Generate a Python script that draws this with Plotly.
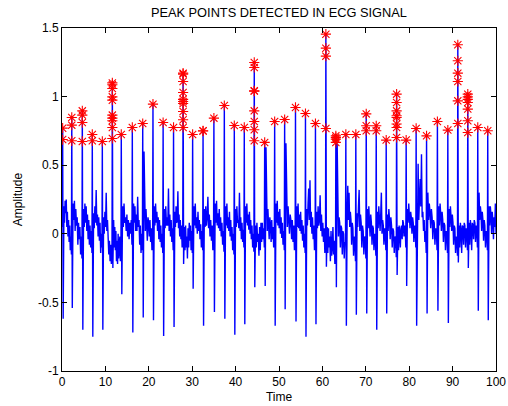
import numpy as np
import plotly.graph_objects as go

# ---- data ----
beat_time = [0.15, 2.25, 4.68, 6.98, 9.29, 11.6, 13.66, 16.2, 18.6, 20.96, 23.3, 25.7,
             27.9, 30.1, 32.5, 35.0, 37.4, 39.7, 42.0, 44.3, 46.7, 49.0, 51.3, 53.8,
             56.1, 58.4, 60.8, 63.1, 65.4, 67.7, 70.1, 72.4, 74.7, 77.1, 79.3, 81.6,
             84.0, 86.5, 88.9, 91.2, 93.5, 95.8, 98.1]

r_peak = [0.77, 0.848, 0.896, 0.724, 0.673, 1.10, 0.724, 0.775, 0.804, 0.945, 0.811, 0.775,
          1.171, 0.724, 0.751, 0.843, 0.935, 0.789, 0.775, 1.249, 0.666, 0.818, 0.833, 0.921,
          0.877, 0.804, 1.455, 0.714, 0.724, 0.724, 0.874, 0.787, 0.683, 1.018, 0.683, 0.768,
          0.714, 0.818, 0.756, 1.378, 1.018, 0.775, 0.751]

s_trough = [-0.62, -0.54, -0.70, -0.75, -0.70, -0.25, -0.44, -0.72, -0.61, -0.63, -0.745, -0.68,
            -0.22, -0.40, -0.67, -0.57, -0.62, -0.735, -0.66, -0.39, -0.38, -0.67, -0.55, -0.64,
            -0.75, -0.66, -0.24, -0.39, -0.67, -0.59, -0.58, -0.70, -0.58, -0.30, -0.38, -0.67,
            -0.58, -0.56, -0.65, -0.21, -0.25, -0.56, -0.63]

peaks_detected = [
    [0.77, 0.687], [0.848, 0.792, 0.678], [0.896, 0.865, 0.811, 0.673], [0.724, 0.678],
    [0.673], [1.10, 1.086, 1.059, 0.998, 0.974, 0.865, 0.843, 0.824, 0.775, 0.695],
    [0.724], [0.775], [0.804], [0.945], [0.811], [0.775],
    [1.171, 1.164, 1.11, 1.03, 0.98, 0.964, 0.95, 0.891, 0.831, 0.775],
    [0.724], [0.751, 0.749], [0.843], [0.935], [0.789], [0.775],
    [1.249, 1.212, 1.042, 1.04, 0.896, 0.818, 0.758, 0.678],
    [0.666], [0.818], [0.833], [0.921], [0.877], [0.804],
    [1.455, 1.353, 1.295, 0.768], [0.714, 0.702, 0.69, 0.666], [0.724], [0.724],
    [0.874, 0.787, 0.751], [0.787, 0.751], [0.683],
    [1.018, 0.957, 0.896, 0.86, 0.848, 0.80, 0.775, 0.702],
    [0.683], [0.768], [0.714], [0.818], [0.756],
    [1.378, 1.261, 1.171, 1.11, 0.969, 0.804],
    [1.018, 0.998, 0.98, 0.957, 0.909, 0.824, 0.738],
    [0.775], [0.751],
]

# signal samples between one beat's S wave and the next beat
between = [
    [0.2, 0.08, 0.24, 0.15, 0.25, 0.05, 0.16, -0.02, 0.1, -0.06, 0.06, -0.12, -0.02, -0.15],
    [0.22, 0.1, 0.24, 0.02, 0.18, 0.06, 0.12, -0.08, 0.08, -0.04, 0.05, -0.15, -0.02, -0.18],
    [0.18, 0.05, 0.22, 0.08, 0.2, 0.02, 0.14, -0.04, 0.1, -0.08, 0.06, -0.1, 0.02, -0.14],
    [0.15, 0.04, 0.2, 0.08, 0.32, 0.06, 0.14, -0.02, 0.12, -0.05, 0.08, -0.14, 0.0, -0.1],
    [0.12, 0.0, 0.16, 0.05, 0.3, 0.02, 0.1, -0.06, -0.15, -0.05, -0.2, -0.08, -0.22, -0.12],
    [0.1, -0.1, 0.05, -0.12, 0.02, -0.2, -0.05, -0.22, 0.0, -0.18, -0.12, -0.02, -0.2, -0.1],
    [0.2, 0.05, 0.22, 0.08, 0.12, 0.02, 0.14, -0.02, 0.1, -0.04, 0.08, 0.0, 0.1, -0.08],
    [0.22, 0.08, 0.2, 0.02, 0.14, 0.02, 0.27, 0.05, 0.1, -0.08, 0.06, -0.14, 0.0, -0.12],
    [0.6, 0.15, 0.02, 0.18, 0.1, -0.05, 0.12, 0.08, -0.02, 0.1, -0.06, 0.04, -0.12, -0.04],
    [0.2, 0.06, 0.22, 0.08, 0.16, 0.02, 0.12, -0.04, 0.1, -0.06, 0.06, -0.1, 0.0, -0.14],
    [0.18, 0.04, 0.2, 0.06, 0.12, 0.06, 0.33, 0.02, 0.14, -0.02, 0.1, -0.06, 0.04, -0.12],
    [0.16, 0.05, 0.2, 0.08, 0.1, 0.31, 0.04, 0.14, -0.02, 0.1, -0.04, 0.06, -0.1, -0.02],
    [0.05, -0.12, 0.06, -0.1, -0.02, -0.18, 0.04, -0.1, 0.08, -0.05, 0.06, -0.12, 0.02, -0.14],
    [0.2, 0.06, 0.22, 0.04, 0.12, 0.0, 0.16, 0.02, 0.1, -0.04, 0.07, -0.1, 0.02, -0.12],
    [0.18, 0.05, 0.2, 0.06, 0.12, 0.27, 0.04, 0.14, -0.02, 0.1, -0.05, 0.06, -0.12, -0.03],
    [0.22, 0.08, 0.24, 0.06, 0.15, 0.04, 0.18, 0.02, 0.12, -0.02, 0.08, -0.08, 0.02, -0.13],
    [0.2, 0.06, 0.22, 0.04, 0.12, 0.02, 0.16, -0.02, 0.1, -0.05, 0.05, -0.12, 0.0, -0.15],
    [0.18, 0.05, 0.2, 0.08, 0.1, 0.04, 0.3, 0.02, 0.12, -0.04, 0.08, -0.06, 0.03, -0.1],
    [0.2, 0.08, 0.22, 0.06, 0.14, 0.03, 0.16, 0.0, 0.1, -0.04, 0.06, -0.1, 0.0, -0.13],
    [0.06, -0.1, 0.08, -0.06, 0.0, -0.16, 0.05, -0.12, 0.08, -0.06, 0.08, -0.04, 0.04, -0.1],
    [0.63, 0.12, 0.02, 0.18, 0.1, -0.04, 0.12, 0.07, -0.06, 0.1, -0.04, 0.05, -0.1, -0.02],
    [0.22, 0.08, 0.24, 0.06, 0.16, 0.04, 0.18, 0.0, 0.12, -0.03, 0.08, -0.08, 0.02, -0.12],
    [0.66, 0.15, 0.05, 0.2, 0.12, 0.0, 0.14, 0.1, -0.04, 0.1, -0.06, 0.06, -0.12, -0.04],
    [0.2, 0.05, 0.22, 0.04, 0.14, 0.02, 0.16, 0.0, 0.1, -0.05, 0.06, -0.1, 0.0, -0.14],
    [0.18, 0.06, 0.22, 0.33, 0.1, 0.39, 0.05, 0.16, 0.0, 0.12, -0.04, 0.06, -0.12, -0.05],
    [0.16, 0.04, 0.2, 0.06, 0.1, 0.28, 0.02, 0.14, -0.02, 0.08, -0.06, 0.04, -0.14, -0.06],
    [0.05, -0.14, 0.04, -0.1, -0.02, -0.2, 0.02, -0.16, -0.1, 0.05, -0.15, -0.05, -0.22, -0.18],
    [0.66, 0.1, -0.02, 0.12, 0.08, -0.1, 0.06, 0.04, -0.15, 0.02, 0.0, -0.18, -0.06, -0.08],
    [0.12, 0.35, 0.1, 0.3, 0.05, 0.16, 0.1, -0.08, 0.08, 0.04, -0.16, -0.02, -0.05, -0.2],
    [0.15, 0.05, 0.2, 0.32, 0.02, 0.14, 0.08, -0.1, 0.06, 0.02, -0.15, -0.02, -0.04, -0.18],
    [0.18, 0.04, 0.2, 0.12, -0.02, 0.14, 0.08, -0.08, 0.06, 0.04, -0.12, 0.0, -0.02, -0.16],
    [0.16, 0.04, 0.2, 0.1, 0.02, 0.14, 0.3, 0.0, 0.1, 0.06, -0.08, 0.04, 0.02, -0.12],
    [0.14, 0.02, 0.18, 0.1, -0.04, 0.12, 0.06, -0.1, 0.04, 0.02, -0.14, -0.02, -0.04, -0.17],
    [0.05, -0.12, 0.06, 0.0, -0.1, 0.04, 0.06, -0.04, 0.1, 0.08, -0.02, 0.06, 0.04, -0.1],
    [0.18, 0.08, 0.22, 0.14, 0.04, 0.16, 0.12, 0.0, 0.12, 0.08, -0.06, 0.06, 0.04, -0.1],
    [0.2, 0.51, 0.1, 0.3, 0.4, 0.2, 0.58, 0.12, 0.16, 0.02, 0.1, -0.06, 0.02, -0.14],
    [0.3, 0.1, 0.22, 0.16, 0.04, 0.18, 0.12, -0.04, 0.1, 0.08, -0.08, 0.04, 0.02, -0.12],
    [0.2, 0.06, 0.22, 0.14, 0.02, 0.16, 0.1, -0.06, 0.08, 0.06, -0.12, 0.02, 0.0, -0.14],
    [0.18, 0.05, 0.2, 0.12, 0.02, 0.14, 0.08, -0.08, 0.06, 0.04, -0.14, -0.02, -0.04, -0.16],
    [0.06, -0.1, 0.08, 0.02, -0.14, 0.06, 0.05, -0.08, 0.08, 0.06, -0.1, 0.04, 0.02, -0.12],
    [0.08, -0.08, 0.1, 0.04, -0.12, 0.08, 0.06, -0.04, 0.1, 0.08, -0.06, 0.06, 0.04, -0.1],
    [0.3, 0.1, 0.2, 0.15, 0.02, 0.16, 0.1, -0.05, 0.1, 0.06, -0.1, 0.02, 0.0, -0.12],
    [0.2, 0.06, 0.2, 0.14, 0.0, 0.16, 0.1, -0.04, 0.12, 0.05, 0.22, 0.0],
]
start_value = 0.05
end_time = 100.0

x_ticks = [0, 10, 20, 30, 40, 50, 60, 70, 80, 90, 100]
x_tick_labels = ["0", "10", "20", "30", "40", "50", "60", "70", "80", "90", "100"]
y_ticks = [-1, -0.5, 0, 0.5, 1, 1.5]
y_tick_labels = ["-1", "-0.5", "0", "0.5", "1", "1.5"]

# ---- build signal from the arrays ----
sx, sy = [0.0], [start_value]
for i, t in enumerate(beat_time):
    sx += [t, t + 0.12]
    sy += [r_peak[i], s_trough[i]]
    nxt = beat_time[i + 1] - 0.08 if i + 1 < len(beat_time) else end_time
    vals = between[i]
    xs = np.linspace(t + 0.3, nxt, len(vals))
    sx += list(xs)
    sy += vals

mx, my = [], []
for t, vals in zip(beat_time, peaks_detected):
    mx += [t] * len(vals)
    my += vals

font = "Liberation Sans, Arial, Helvetica, sans-serif"

fig = go.Figure()
fig.add_trace(go.Scatter(x=sx, y=sy, mode="lines",
                         line=dict(color="#0000ff", width=1.4), showlegend=False))
fig.add_trace(go.Scatter(x=mx, y=my, mode="markers",
                         marker=dict(symbol="asterisk-open", size=8.5, color="#ff0000",
                                     line=dict(color="#ff0000", width=1.1)),
                         showlegend=False))

axis_common = dict(showline=True, linecolor="black", linewidth=1, mirror="ticks",
                   ticks="inside", ticklen=5, tickcolor="black", tickwidth=1,
                   showgrid=False, zeroline=False, automargin=False,
                   tickfont=dict(family=font, size=12, color="black"))

fig.update_layout(
    width=508, height=406,
    margin=dict(l=62, r=12, t=28, b=35),
    paper_bgcolor="white", plot_bgcolor="white",
    title=dict(text="PEAK POINTS DETECTED IN ECG SIGNAL", x=0.549, xanchor="center",
               y=0.968, yanchor="middle", font=dict(family=font, size=12.8, color="black")),
    xaxis=dict(range=[0, 100], tickvals=x_ticks, ticktext=x_tick_labels,
               title=dict(text="Time", font=dict(family=font, size=12, color="black"),
                          standoff=4), **axis_common),
    yaxis=dict(range=[-1, 1.5], tickvals=y_ticks, ticktext=y_tick_labels,
               title=dict(text="Amplitude", font=dict(family=font, size=12, color="black"),
                          standoff=12), **axis_common),
)

# remove the page's default body margin so the figure sits at the window origin
fig.write_html("out.html", config={"displayModeBar": False},
               post_script="document.body.style.margin='0';document.body.style.overflow='hidden';")
